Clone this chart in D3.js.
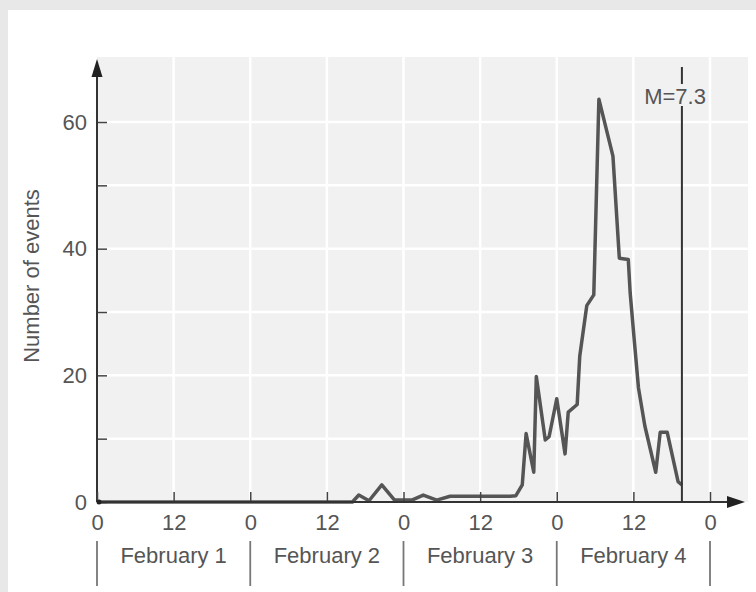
<!DOCTYPE html>
<html>
<head>
<meta charset="utf-8">
<script src="https://cdn.jsdelivr.net/npm/d3@7/dist/d3.min.js"></script>
<style>
  html, body { margin: 0; padding: 0; background: #e8e8e8; }
  svg { display: block; }
  text { font-family: "Liberation Sans", Arial, Helvetica, sans-serif; fill: #555; }
</style>
</head>
<body>
<svg id="chart" width="756" height="592"></svg>
<script>
// ---- data ----
// hours since Feb 1 00:00
const eventHours = [0, 40, 41, 42.6, 44.6, 46.6, 49.3, 51.1, 53.2, 55.3, 64.7, 65.6, 66.6, 67.2, 68.4, 68.8,
  70.2, 70.8, 72.0, 73.3, 73.8, 75.2, 75.6, 76.7, 77.8, 78.6, 80.8, 81.8, 83.2, 83.5, 84.1, 84.8,
  85.8, 87.5, 88.2, 89.3, 91.0, 91.6];
const eventCounts = [0, 0, 1.1, 0.2, 2.7, 0.3, 0.3, 1.1, 0.3, 0.9, 0.9, 1.0, 2.7, 10.8, 4.7, 19.8,
  9.8, 10.3, 16.3, 7.6, 14.2, 15.4, 23, 31, 32.7, 63.6, 54.6, 38.5, 38.3, 33, 26, 18,
  12, 4.7, 11, 11, 3.2, 2.7];
const xTickHours = [0, 12, 24, 36, 48, 60, 72, 84, 96];
const yTicks = [0, 10, 20, 30, 40, 50, 60];
const yLabelTicks = [0, 20, 40, 60];
const dayLabels = ["February 1", "February 2", "February 3", "February 4"];
const mainshockHour = 91.6;
const mainshockLabel = "M=7.3";
const yAxisTitle = "Number of events";

// ---- layout ----
const svg = d3.select("#chart");
const x = d3.scaleLinear().domain([0, 96]).range([97, 710]);
const y = d3.scaleLinear().domain([0, 60]).range([502, 122]);
const plotTop = 57, plotRight = 748;
const fs = "22px";

// card
svg.append("rect").attr("x", 8).attr("y", 10).attr("width", 748).attr("height", 582).attr("fill", "#ffffff");

// plot background
svg.append("rect").attr("x", x(0)).attr("y", plotTop)
  .attr("width", plotRight - x(0)).attr("height", y(0) - plotTop).attr("fill", "#f1f1f1");

// grid
svg.append("g").selectAll("line").data(xTickHours.filter(d => d > 0)).join("line")
  .attr("x1", d => x(d)).attr("x2", d => x(d)).attr("y1", plotTop).attr("y2", y(0))
  .attr("stroke", "#ffffff").attr("stroke-width", 2.5);
svg.append("g").selectAll("line").data(yTicks.filter(d => d > 0)).join("line")
  .attr("x1", x(0)).attr("x2", plotRight).attr("y1", d => y(d)).attr("y2", d => y(d))
  .attr("stroke", "#ffffff").attr("stroke-width", 2.5);

// data line
const pts = eventHours.map((h, i) => [h, eventCounts[i]]);
svg.append("path").datum(pts)
  .attr("d", d3.line().x(d => x(d[0])).y(d => y(d[1])))
  .attr("fill", "none").attr("stroke", "#555").attr("stroke-width", 3.5)
  .attr("stroke-linejoin", "round");

// mainshock line
const mx = x(mainshockHour);
svg.append("line").attr("x1", mx).attr("x2", mx).attr("y1", 67).attr("y2", 84)
  .attr("stroke", "#333").attr("stroke-width", 2);
svg.append("line").attr("x1", mx).attr("x2", mx).attr("y1", 106).attr("y2", y(0))
  .attr("stroke", "#333").attr("stroke-width", 2);
svg.append("text").attr("x", mx + 24).attr("y", 104).attr("text-anchor", "end")
  .style("font-size", fs).text(mainshockLabel);

// y axis
const yAxis = d3.axisLeft(y).tickValues(yTicks).tickSizeInner(-10).tickSizeOuter(0).tickPadding(10)
  .tickFormat(d => yLabelTicks.includes(d) ? d : "");
const gy = svg.append("g").attr("transform", `translate(${x(0)},0)`).call(yAxis);
gy.select(".domain").remove();
gy.selectAll(".tick line").attr("stroke", "#444").attr("stroke-width", 1.5);
gy.selectAll(".tick text").style("font-size", fs).style("fill", "#555")
  .style("font-family", "'Liberation Sans', Arial, sans-serif");
svg.append("line").attr("x1", x(0)).attr("x2", x(0)).attr("y1", y(0)).attr("y2", 72)
  .attr("stroke", "#333").attr("stroke-width", 2);
svg.append("path").attr("d", `M${x(0)},59 L${x(0) - 5.5},77 L${x(0) + 5.5},77 Z`).attr("fill", "#222");

// x axis
const xAxis = d3.axisBottom(x).tickValues(xTickHours).tickSizeInner(-10).tickSizeOuter(0).tickPadding(12)
  .tickFormat(d => d % 24);
const gx = svg.append("g").attr("transform", `translate(0,${y(0)})`).call(xAxis);
gx.select(".domain").remove();
gx.selectAll(".tick line").attr("stroke", "#444").attr("stroke-width", 1.5);
gx.selectAll(".tick text").style("font-size", fs).style("fill", "#555")
  .style("font-family", "'Liberation Sans', Arial, sans-serif");
svg.append("line").attr("x1", x(0)).attr("x2", 730).attr("y1", y(0)).attr("y2", y(0))
  .attr("stroke", "#333").attr("stroke-width", 2);
svg.append("path").attr("d", `M745,${y(0)} L727,${y(0) - 6} L727,${y(0) + 6} Z`).attr("fill", "#222");
svg.append("circle").attr("cx", x(0) + 2).attr("cy", y(0)).attr("r", 2.5).attr("fill", "#222");

// day labels and separators
svg.append("g").selectAll("line").data(d3.range(dayLabels.length + 1)).join("line")
  .attr("x1", d => x(d * 24)).attr("x2", d => x(d * 24)).attr("y1", 541).attr("y2", 586)
  .attr("stroke", "#777").attr("stroke-width", 1.8);
svg.append("g").selectAll("text").data(dayLabels).join("text")
  .attr("x", (d, i) => x(i * 24 + 12)).attr("y", 563).attr("text-anchor", "middle")
  .style("font-size", fs).text(d => d);

// y axis title
svg.append("text").attr("transform", "translate(39,276) rotate(-90)").attr("text-anchor", "middle")
  .style("font-size", fs).text(yAxisTitle);
</script>
</body>
</html>
